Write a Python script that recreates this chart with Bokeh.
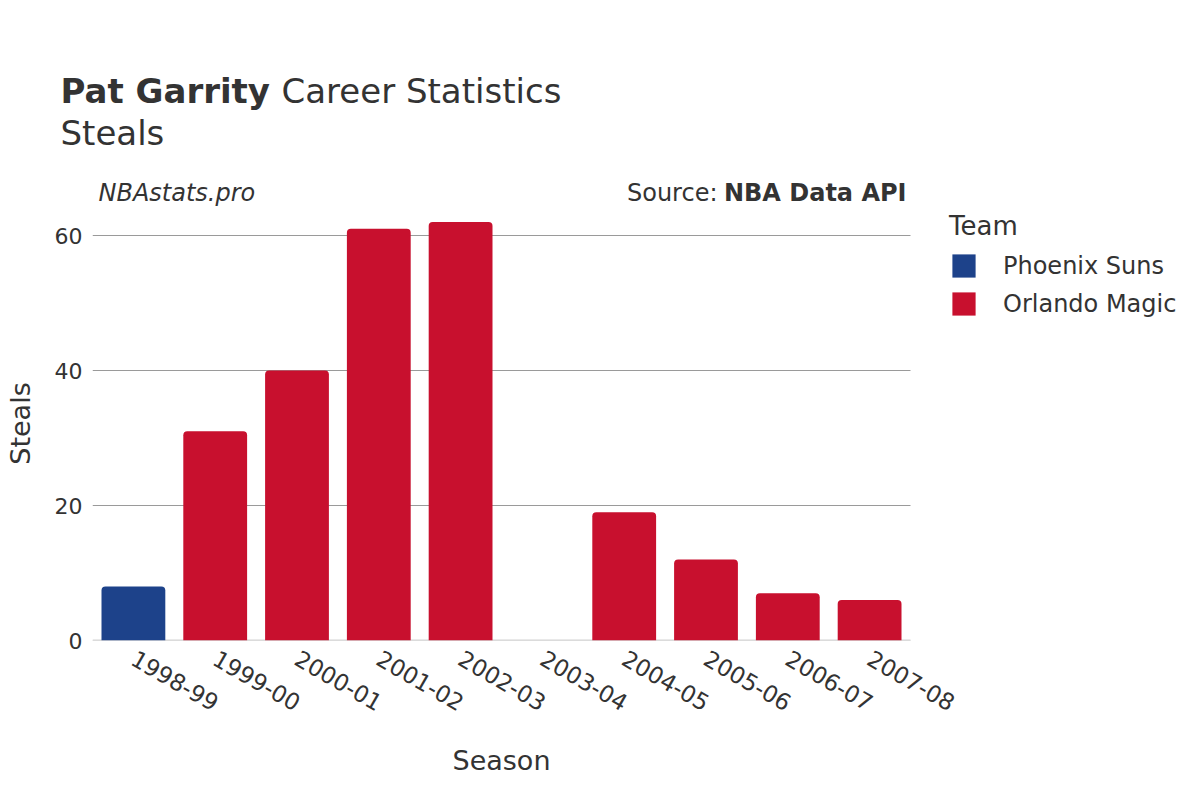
import math
from bokeh.plotting import figure
from bokeh.models import (ColumnDataSource, Range1d, Label, Legend, LegendItem,
                          FixedTicker)
from bokeh.layouts import column, row
from bokeh.embed import file_html
from bokeh.resources import INLINE

seasons = ["1998-99", "1999-00", "2000-01", "2001-02", "2002-03",
           "2003-04", "2004-05", "2005-06", "2006-07", "2007-08"]
season_team = ["Phoenix Suns", "Orlando Magic", "Orlando Magic", "Orlando Magic",
               "Orlando Magic", "Orlando Magic", "Orlando Magic", "Orlando Magic",
               "Orlando Magic", "Orlando Magic"]
steals = [8, 31, 40, 61, 62, 0, 19, 12, 7, 6]
team_names = ["Phoenix Suns", "Orlando Magic"]
team_colors = ["#1d428a", "#c8102e"]
y_ticks = [0, 20, 40, 60]

FONT = "DejaVu Sans"
TXT = "#333333"

W, H = 1184, 784
HEAD_H = 206                      # title strip
FRAME_L, FRAME_R, FRAME_B = 92, 910, 640
MAIN_H = 728 - HEAD_H             # chart strip (plot area + tick labels)
FOOT_H = H - HEAD_H - MAIN_H      # strip holding the x-axis title


def lab(f, text, x, y, size, style="normal", align="left", angle=0):
    f.add_layout(Label(x=x, y=y, x_units="screen", y_units="screen", text=text,
                       text_font=FONT, text_font_size=size, text_font_style=style,
                       text_align=align, text_baseline="middle", angle=angle,
                       text_color=TXT))


def strip(height):
    f = figure(width=W, height=height, output_backend="svg",
               toolbar_location=None, x_axis_location=None, y_axis_location=None,
               x_range=Range1d(0, W), y_range=Range1d(0, height), min_border=0)
    f.grid.visible = False
    f.outline_line_color = None
    return f


# ---------------- header ----------------
head = strip(HEAD_H)
lab(head, "Pat Garrity", 60, HEAD_H - 90, "34px", "bold")
lab(head, "Career Statistics", 281, HEAD_H - 90, "34px")
lab(head, "Steals", 60, HEAD_H - 132, "34px")
lab(head, "NBAstats.pro", 98, HEAD_H - 192, "24px", "italic")
lab(head, "NBA Data API", 906, HEAD_H - 192, "24px", "bold", align="right")
lab(head, "Source:", 717, HEAD_H - 192, "24px", align="right")

# ---------------- main chart ----------------
px_per_unit = 6.75
cat_px = (FRAME_R - FRAME_L) / len(seasons)
frame_h = FRAME_B - HEAD_H
idx = list(range(len(seasons)))
p = figure(width=W, height=MAIN_H, output_backend="svg", toolbar_location=None,
           x_range=Range1d(-0.5, -0.5 + (W - FRAME_L) / cat_px),
           y_range=Range1d(0, frame_h / px_per_unit),
           min_border_left=FRAME_L, min_border_right=0,
           min_border_top=0, min_border_bottom=MAIN_H - frame_h)
p.outline_line_color = None
p.grid.visible = False

# horizontal grid lines limited to the category span
g0 = -0.5
g1 = len(seasons) - 0.5
p.segment(x0=[g0] * len(y_ticks), x1=[g1] * len(y_ticks), y0=y_ticks, y1=y_ticks,
          line_color="#9a9a9a", line_width=1)
p.segment(x0=[g0], x1=[g1], y0=[0], y1=[0], line_color="#e9e9e9", line_width=3)

items = []
for name, color in zip(team_names, team_colors):
    xs = [i for i, t in zip(idx, season_team) if t == name]
    ys = [v for v, t in zip(steals, season_team) if t == name]
    src = ColumnDataSource(dict(x=xs, top=ys))
    r = p.vbar(x="x", top="top", bottom=0, width=0.78, source=src,
               fill_color=color, line_color=None, border_radius=(4, 4, 0, 0))
    items.append(LegendItem(label=name, renderers=[r]))

p.xaxis.ticker = FixedTicker(ticks=idx)
p.xaxis.major_label_overrides = {i: s for i, s in zip(idx, seasons)}
p.yaxis.ticker = FixedTicker(ticks=y_ticks)

for ax in (p.xaxis, p.yaxis):
    ax.axis_line_color = None
    ax.major_tick_line_color = None
    ax.minor_tick_line_color = None
    ax.major_label_text_font = FONT
    ax.major_label_text_color = TXT
    ax.axis_label_text_font = FONT
    ax.axis_label_text_font_size = "27px"
    ax.axis_label_text_font_style = "normal"
    ax.axis_label_text_color = TXT
p.yaxis.major_label_text_font_size = "22px"
p.xaxis.major_label_text_font_size = "23px"
p.yaxis.major_label_standoff = 4
p.xaxis.major_label_standoff = 10
p.xaxis.major_label_orientation = -math.pi / 6
p.yaxis.axis_label = "Steals"
p.yaxis.axis_label_standoff = 16

legend = Legend(items=items, location=(949 - FRAME_L, 322), orientation="vertical",
                title="Team", title_text_font=FONT, title_text_font_size="26px",
                title_text_font_style="normal", title_text_color=TXT,
                title_standoff=10,
                padding=0, margin=0, border_line_color=None,
                background_fill_alpha=0, glyph_width=29, glyph_height=29,
                label_height=22, spacing=9, label_standoff=25,
                label_text_font=FONT, label_text_font_size="24px",
                label_text_color=TXT, label_text_baseline="middle")
p.add_layout(legend, "center")

# ---------------- footer: x-axis title ----------------
foot = strip(FOOT_H)
lab(foot, "Season", (FRAME_L + FRAME_R) / 2, H - 760, "27px", align="center")

layout = column(head, row(p, spacing=0), foot, spacing=0)
open("out.html", "w").write(file_html(layout, INLINE))
